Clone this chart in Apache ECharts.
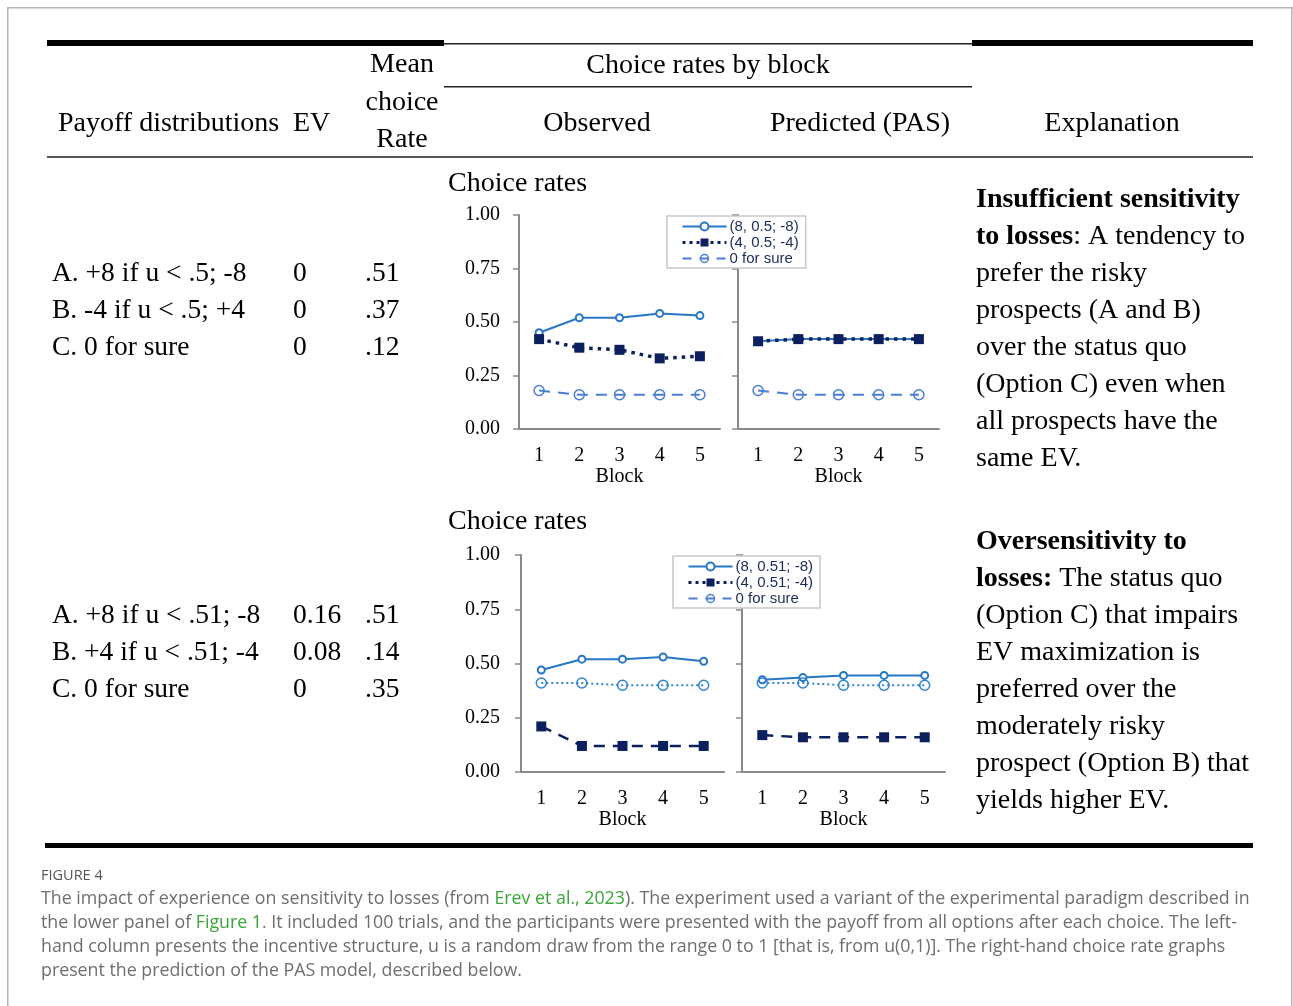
<!DOCTYPE html>
<html>
<head>
<meta charset="utf-8">
<script src="https://cdn.jsdelivr.net/npm/echarts@6/dist/echarts.min.js"></script>
<style>
html,body{margin:0;padding:0;background:#fff;}
#c{width:1293px;height:1006px;}
</style>
</head>
<body>
<div id="c"></div>
<script>
// ---------- data ----------
const blocks = ['1', '2', '3', '4', '5'];
const yMin = 0, yMax = 1, yStep = 0.25;

// Row 1 (Insufficient sensitivity to losses)
const row1Names = ['(8, 0.5; -8)', '(4, 0.5; -4)', '0 for sure'];
const obs1A = [0.45, 0.52, 0.52, 0.54, 0.53];
const obs1B = [0.42, 0.38, 0.37, 0.33, 0.34];
const obs1C = [0.18, 0.16, 0.16, 0.16, 0.16];
const pred1A = [0.41, 0.42, 0.42, 0.42, 0.42];
const pred1B = [0.41, 0.42, 0.42, 0.42, 0.42];
const pred1C = [0.18, 0.16, 0.16, 0.16, 0.16];

// Row 2 (Oversensitivity to losses)
const row2Names = ['(8, 0.51; -8)', '(4, 0.51; -4)', '0 for sure'];
const obs2A = [0.47, 0.52, 0.52, 0.53, 0.51];
const obs2B = [0.21, 0.12, 0.12, 0.12, 0.12];
const obs2C = [0.41, 0.41, 0.40, 0.40, 0.40];
const pred2A = [0.425, 0.435, 0.445, 0.445, 0.445];
const pred2B = [0.17, 0.16, 0.16, 0.16, 0.16];
const pred2C = [0.41, 0.41, 0.40, 0.40, 0.40];

// Table text
const headerCols = ['Payoff distributions', 'EV', 'Mean', 'choice', 'Rate', 'Choice rates by block', 'Observed', 'Predicted (PAS)', 'Explanation'];
const table1 = [
  ['A. +8 if u < .5; -8', '0', '.51'],
  ['B. -4 if u < .5; +4', '0', '.37'],
  ['C. 0 for sure', '0', '.12']
];
const table2 = [
  ['A. +8 if u < .51; -8', '0.16', '.51'],
  ['B. +4 if u < .51; -4', '0.08', '.14'],
  ['C. 0 for sure', '0', '.35']
];
const expl1 = [
  ['{b|Insufficient sensitivity}'],
  ['{b|to losses}{n|: A tendency to}'],
  ['{n|prefer the risky}'],
  ['{n|prospects (A and B)}'],
  ['{n|over the status quo}'],
  ['{n|(Option C) even when}'],
  ['{n|all prospects have the}'],
  ['{n|same EV.}']
];
const expl2 = [
  ['{b|Oversensitivity to}'],
  ['{b|losses:}{n| The status quo}'],
  ['{n|(Option C) that impairs}'],
  ['{n|EV maximization is}'],
  ['{n|preferred over the}'],
  ['{n|moderately risky}'],
  ['{n|prospect (Option B) that}'],
  ['{n|yields higher EV.}']
];
const captionTitle = 'FIGURE 4';
const captionLines = [
  '{n|The impact of experience on sensitivity to losses (from }{g|Erev et al., 2023}{n|). The experiment used a variant of the experimental paradigm described in}',
  '{n|the lower panel of }{g|Figure 1}{n|. It included 100 trials, and the participants were presented with the payoff from all options after each choice. The left-}',
  '{n|hand column presents the incentive structure, u is a random draw from the range 0 to 1 [that is, from u(0,1)]. The right-hand choice rate graphs}',
  '{n|present the prediction of the PAS model, described below.}'
];

// ---------- styles ----------
const SERIF = '"Liberation Serif", "Times New Roman", serif';
const SANS = '"Liberation Sans", Arial, sans-serif';
const CAP = '"Open Sans", "Noto Sans", sans-serif';
const cA = '#2777C6';
const cB = '#0C1F5E';
const cC = '#4A7DD4';
const cC2 = '#2F83D2';
const axisGray = '#8a8a8a';
const BIG = 28;
const ROWF = 27.5;
const CAPF = 17.8;

const chart = echarts.init(document.getElementById('c'), null, {renderer: 'canvas'});

const g = [];
function txt(x, y, text, o) {
  o = o || {};
  g.push({
    type: 'text', silent: true, z: 10,
    style: {
      x: x, y: y, text: text,
      fontFamily: o.family || SERIF,
      fontSize: o.size || BIG,
      fontWeight: o.weight || 'normal',
      fill: o.fill || '#000',
      align: o.align || 'left',
      verticalAlign: 'middle',
      rich: o.rich
    }
  });
}
function rect(x, y, w, h, fill) {
  g.push({type: 'rect', silent: true, z: 5, shape: {x: x, y: y, width: w, height: h}, style: {fill: fill}});
}

// frame
rect(7, 7, 1286, 1.5, '#b4b4b4');
rect(7, 7, 1.5, 999, '#b4b4b4');
rect(1291, 7, 1.5, 999, '#b4b4b4');

// rules
rect(47, 40, 397, 6, '#000');
rect(444, 43, 528, 1.5, '#222');
rect(972, 40, 281, 6, '#000');
rect(444, 86, 528, 1.5, '#222');
rect(47, 156, 1206, 2, '#555');
rect(45, 843, 1208, 5, '#000');

// header
txt(58, 124, headerCols[0]);
txt(293, 124, headerCols[1]);
txt(402, 65, headerCols[2], {align: 'center'});
txt(402, 103, headerCols[3], {align: 'center'});
txt(402, 140, headerCols[4], {align: 'center'});
txt(708, 66, headerCols[5], {align: 'center'});
txt(597, 124, headerCols[6], {align: 'center'});
txt(860, 124, headerCols[7], {align: 'center'});
txt(1112, 124, headerCols[8], {align: 'center'});

// table rows
table1.forEach(function (r, i) {
  const y = 274 + i * 37;
  txt(52, y, r[0], {size: ROWF}); txt(293, y, r[1], {size: ROWF}); txt(365, y, r[2], {size: ROWF});
});
table2.forEach(function (r, i) {
  const y = 616 + i * 37;
  txt(52, y, r[0], {size: ROWF}); txt(293, y, r[1], {size: ROWF}); txt(365, y, r[2], {size: ROWF});
});

// chart titles
txt(448, 184, 'Choice rates');
txt(448, 522, 'Choice rates');

// explanation
const richExpl = {
  b: {fontFamily: SERIF, fontSize: BIG, fontWeight: 'bold', fill: '#000'},
  n: {fontFamily: SERIF, fontSize: BIG, fontWeight: 'normal', fill: '#000'}
};
expl1.forEach(function (l, i) { txt(976, 200 + i * 37, l[0], {rich: richExpl}); });
expl2.forEach(function (l, i) { txt(976, 542 + i * 37, l[0], {rich: richExpl}); });

// caption
txt(41, 876, captionTitle, {family: CAP, size: 14.5, fill: '#555', weight: 'normal'});
const richCap = {
  n: {fontFamily: CAP, fontSize: CAPF, fill: '#6e6e6e'},
  g: {fontFamily: CAP, fontSize: CAPF, fill: '#3aa53a'}
};
captionLines.forEach(function (l, i) { txt(41, 899 + i * 24, l, {rich: richCap, family: CAP, size: CAPF}); });

// ---------- grids & axes ----------
const grids = [
  {left: 519, top: 215, width: 201, height: 214},
  {left: 738, top: 215, width: 201, height: 214},
  {left: 521, top: 555, width: 203, height: 217},
  {left: 742, top: 555, width: 203, height: 217}
];
const xAxes = grids.map(function (gr, i) {
  return {
    type: 'category', gridIndex: i, data: blocks,
    axisLine: {lineStyle: {color: axisGray, width: 2}},
    axisTick: {show: false},
    axisLabel: {fontFamily: SERIF, fontSize: 20, color: '#000', margin: 17},
    name: 'Block', nameLocation: 'middle', nameGap: 34,
    nameTextStyle: {fontFamily: SERIF, fontSize: 20, color: '#000'}
  };
});
const yAxes = grids.map(function (gr, i) {
  return {
    type: 'value', gridIndex: i, min: yMin, max: yMax, interval: yStep,
    axisLine: {show: true, lineStyle: {color: axisGray, width: 2}},
    axisTick: {show: true, length: 6, lineStyle: {color: axisGray, width: 1.5}},
    splitLine: {show: false},
    axisLabel: {
      show: i % 2 === 0, fontFamily: SERIF, fontSize: 20, color: '#000', margin: i < 2 ? 19 : 21,
      formatter: function (v) { return v.toFixed(2); }
    }
  };
});

// ---------- series ----------
function sA(name, data, idx) {
  return {
    type: 'line', name: name, data: data, xAxisIndex: idx, yAxisIndex: idx,
    symbol: 'emptyCircle', symbolSize: 7, z: 2,
    lineStyle: {color: cA, width: 2},
    itemStyle: {color: cA, borderColor: cA, borderWidth: 1.5}
  };
}
function sSquare(name, data, idx, dashType, width) {
  return {
    type: 'line', name: name, data: data, xAxisIndex: idx, yAxisIndex: idx,
    symbol: 'rect', symbolSize: 10, z: 3,
    lineStyle: {color: cB, width: width, type: dashType},
    itemStyle: {color: cB}
  };
}
function sCircle(name, data, idx, dashType, color) {
  return {
    type: 'line', name: name, data: data, xAxisIndex: idx, yAxisIndex: idx,
    symbol: 'circle', symbolSize: 10, z: 2,
    lineStyle: {color: color, width: 2, type: dashType},
    itemStyle: {color: 'rgba(255,255,255,0)', borderColor: color, borderWidth: 1.5}
  };
}
const dotB = [3.5, 5];
const dashC = [11, 8];
const series = [
  sA(row1Names[0], obs1A, 0), sSquare(row1Names[1], obs1B, 0, dotB, 3.5), sCircle(row1Names[2], obs1C, 0, dashC, cC),
  sA(row1Names[0], pred1A, 1), sSquare(row1Names[1], pred1B, 1, dotB, 3.5), sCircle(row1Names[2], pred1C, 1, dashC, cC),
  sA(row2Names[0], obs2A, 2), sSquare(row2Names[1], obs2B, 2, [11, 8], 2.5), sCircle(row2Names[2], obs2C, 2, [2, 3], cC2),
  sA(row2Names[0], pred2A, 3), sSquare(row2Names[1], pred2B, 3, [11, 8], 2.5), sCircle(row2Names[2], pred2C, 3, [2, 3], cC2)
];

function legendCfg(names, left, top) {
  return {
    orient: 'vertical', left: left, top: top, selectedMode: false, z: 20,
    itemWidth: 44, itemHeight: 10, itemGap: 1,
    padding: [3, 7, 2, 14],
    backgroundColor: '#fff', borderColor: '#c8c8c8', borderWidth: 1.5, borderRadius: 0,
    textStyle: {fontFamily: SANS, fontSize: 15, color: '#1b2a5a', padding: [0, 0, 0, -2]},
    data: [
      {name: names[0]},
      {name: names[1], lineStyle: {type: [3, 4], width: 3, color: cB}},
      {name: names[2], lineStyle: {type: [9, 8], width: 2, color: cC}, itemStyle: {color: 'rgba(255,255,255,0)', borderColor: cC, borderWidth: 1.5}}
    ]
  };
}

chart.setOption({
  animation: false,
  backgroundColor: '#fff',
  grid: grids,
  xAxis: xAxes,
  yAxis: yAxes,
  legend: [legendCfg(row1Names, 667, 216), legendCfg(row2Names, 673, 556)],
  series: series,
  graphic: g
});
</script>
</body>
</html>
